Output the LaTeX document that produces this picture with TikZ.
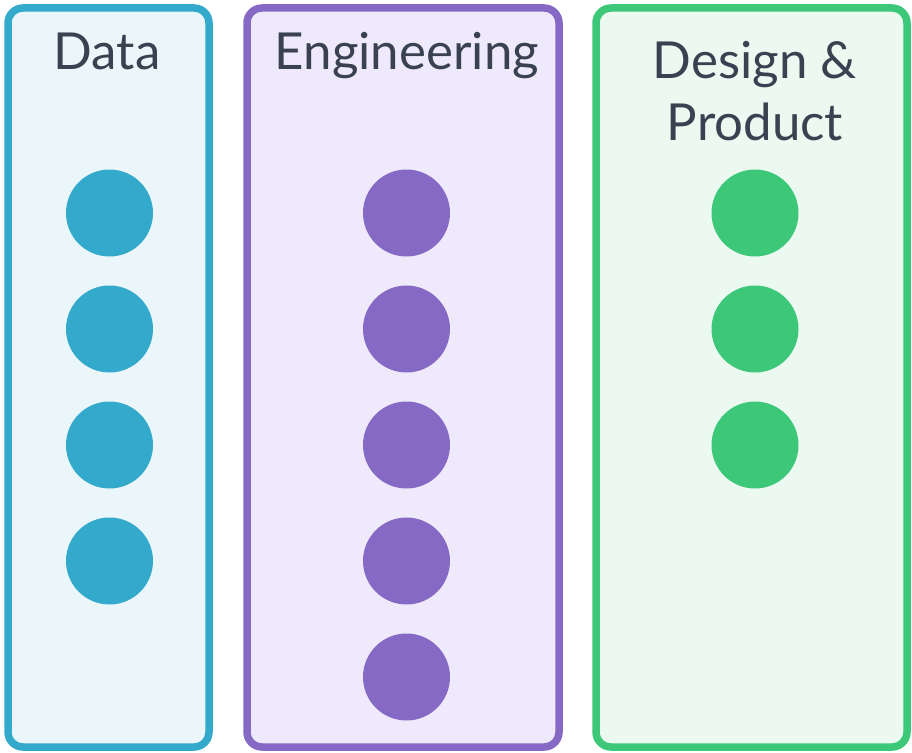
\documentclass[tikz,border=0pt]{standalone}
\usepackage{fontspec}
\setmainfont{Lato}
\definecolor{txt}{HTML}{3A4150}
\definecolor{bluec}{HTML}{33AACC}
\definecolor{bluef}{HTML}{EAF6F9}
\definecolor{purc}{HTML}{8669C4}
\definecolor{purf}{HTML}{EFEAFB}
\definecolor{grnc}{HTML}{3CC878}
\definecolor{grnf}{HTML}{EBF9F1}
\tikzset{
  col/.style={line width=7.5pt, rounded corners=15pt},
  dot/.style={circle, minimum size=87pt, inner sep=0pt, fill=#1},
  ttl/.style={text=txt, font=\fontsize{51}{62}\selectfont, anchor=base, align=center, inner sep=0pt}
}
\begin{document}
\begin{tikzpicture}[x=1pt,y=-1pt]
\useasboundingbox (0,0) rectangle (912,752);
\draw[col, draw=bluec, fill=bluef] (8,8) rectangle (209,747);
\draw[col, draw=purc, fill=purf] (247,8) rectangle (559,747);
\draw[col, draw=grnc, fill=grnf] (596,8) rectangle (907,747);
\node[ttl] (tdata) at (107,70) {Data};
\node[ttl] (teng) at (407,70) {Engineering};
\node[ttl] (tdes1) at (755,78) {Design \&};
\node[ttl] (tdes2) at (755,140) {Product};
\foreach \i/\y in {1/213,2/329,3/445,4/561} \node[dot=bluec] (d\i) at (109.5,\y) {};
\foreach \i/\y in {1/213,2/329,3/445,4/561,5/677} \node[dot=purc] (e\i) at (406.5,\y) {};
\foreach \i/\y in {1/213,2/329,3/445} \node[dot=grnc] (g\i) at (755,\y) {};
\end{tikzpicture}
\end{document}
